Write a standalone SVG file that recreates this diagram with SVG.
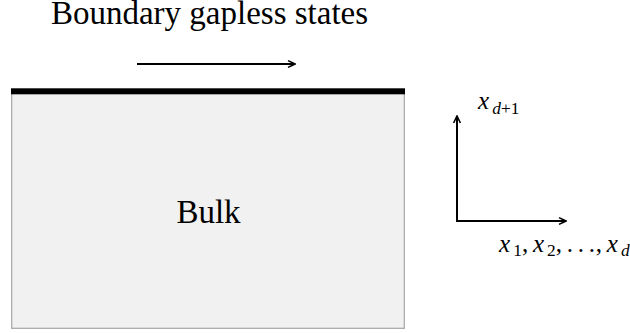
<svg xmlns="http://www.w3.org/2000/svg" width="630" height="333" viewBox="0 0 630 333">
<defs>
<marker id="chev" viewBox="0 0 10 10" refX="9" refY="5" markerWidth="5" markerHeight="5" markerUnits="strokeWidth" orient="auto">
<path d="M2,1.6 L9,5 L2,8.4" fill="none" stroke="#000" stroke-width="1.6"/>
</marker>
</defs>
<style>
.t{font-family:'Liberation Serif','Times New Roman',serif;fill:#000}
.m{font-family:'Liberation Serif','Times New Roman',serif;font-size:25px;fill:#000}
.i{font-style:italic}
.s{font-size:17.4px}
.ln{stroke:#000;stroke-width:2;fill:none;marker-end:url(#chev)}
</style>
<rect width="630" height="333" fill="#fff"/>
<g id="title"><text class="t" x="209.5" y="24" font-size="33" text-anchor="middle">Boundary gapless states</text></g>
<g id="bulk">
<rect x="11.7" y="91" width="392.6" height="237.3" fill="#f1f1f1" stroke="#a6a6a6" stroke-width="1.2"/>
<rect x="11" y="88.3" width="394" height="6" fill="#000"/>
<text class="t" x="208.5" y="222.5" font-size="33" text-anchor="middle">Bulk</text>
</g>
<g id="connectors">
<line class="ln" x1="457" y1="221" x2="457" y2="116"/>
<line class="ln" x1="456" y1="221" x2="566" y2="221"/>
<line class="ln" x1="137" y1="64" x2="295" y2="64"/>
</g>
<g id="labels">
<text class="m"><tspan class="i" x="478" y="109">x</tspan><tspan class="s i" x="492.2" y="114">d</tspan><tspan class="s">+1</tspan></text>
<text class="m"><tspan class="i" x="499" y="252">x</tspan><tspan class="s" x="513.2" y="256">1</tspan><tspan x="521.9" y="252">,</tspan><tspan class="i" x="532.9">x</tspan><tspan class="s" x="547.1" y="256">2</tspan><tspan x="555.8" y="252">,</tspan><tspan x="566.8">.</tspan><tspan x="577.8">.</tspan><tspan x="588.8">.</tspan><tspan x="595.7">,</tspan><tspan class="i" x="606.7">x</tspan><tspan class="s i" x="620.9" y="256">d</tspan></text>
</g>
</svg>
